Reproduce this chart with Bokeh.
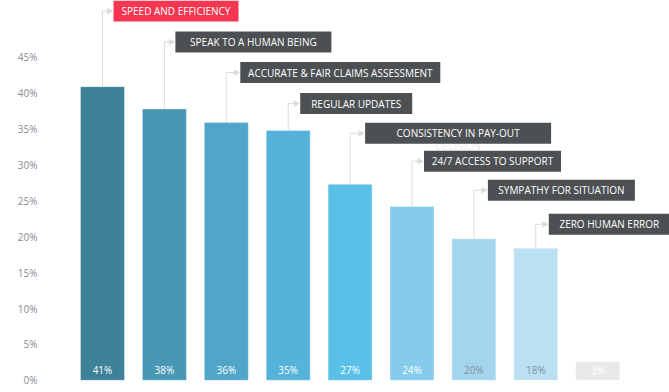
import math
from bokeh.plotting import figure
from bokeh.models import (Range1d, ColumnDataSource, Arrow, NormalHead,
                          FixedTicker, PrintfTickFormatter)
from bokeh.core.properties import value
from bokeh.embed import file_html
from bokeh.resources import INLINE

# ---------------- data ----------------
categories = [
    "SPEED AND EFFICIENCY",
    "SPEAK TO A HUMAN BEING",
    "ACCURATE & FAIR CLAIMS ASSESSMENT",
    "REGULAR UPDATES",
    "CONSISTENCY IN PAY-OUT\nDECISION",
    "24/7 ACCESS TO SUPPORT",
    "SYMPATHY FOR SITUATION",
    "ZERO HUMAN ERROR",
    "OTHER",
]
values = [40.9, 37.8, 35.9, 34.8, 27.3, 24.2, 19.7, 18.4, 2.6]
y_ticks = [0, 5, 10, 15, 20, 25, 30, 35, 40, 45]

# ---------------- styles / layout ----------------
bar_colors = ["#3d8299", "#4897b5", "#4fa6c9", "#55b3db", "#5bc0e8",
              "#85ccec", "#a3d6ee", "#bae0f2", "#e8e9eb"]
bar_label_colors = ["#ffffff"] * 6 + ["#7f909b", "#7f909b", "#ffffff"]
box_fill = ["#f53650"] + ["#4d5053"] * 7
box_gap_px = [11, 11, 14, 12, 15, 12, 14, 13]          # connector -> box
box_w_px = [125, 156, 200, 112, 186, 137, 147, 121]     # box widths
box_cy_px = [10.5, 41.5, 72, 103, 132.8, 160.7, 189.7, 223.8]  # y of box centre
BOX_H_PX = 21
FONT = "Open Sans"

FIG_W, FIG_H = 669, 392
BORDER_LEFT = 45
PX_X = 61.9          # px per category
PX_Y = 7.18          # px per percent
FIRST_BAR_PX = 57    # first bar centre from frame left
ZERO_PX = 379.8      # zero line from figure top
BAR_W_PX = 44

frame_w = FIG_W - BORDER_LEFT
x0 = -FIRST_BAR_PX / PX_X
x1 = x0 + frame_w / PX_X
y1 = ZERO_PX / PX_Y
y0 = y1 - FIG_H / PX_Y

p = figure(width=FIG_W, height=FIG_H, output_backend="svg", toolbar_location=None,
           x_range=Range1d(x0, x1), y_range=Range1d(y0, y1),
           x_axis_location=None, min_border_left=BORDER_LEFT, min_border_right=0,
           min_border_top=0, min_border_bottom=0, background_fill_color="white",
           border_fill_color="white", outline_line_color=None)
p.grid.visible = False

ax = p.yaxis[0]
ax.ticker = FixedTicker(ticks=y_ticks)
ax.formatter = PrintfTickFormatter(format="%d%%")
ax.axis_line_color = None
ax.major_tick_line_color = None
ax.minor_tick_line_color = None
ax.major_tick_out = 0
ax.major_label_standoff = 8
ax.major_label_text_font = FONT
ax.major_label_text_font_size = "10px"
ax.major_label_text_color = "#8c8c8c"

n = len(values)
xs = list(range(n))
bars = ColumnDataSource(dict(x=xs, top=values, color=bar_colors,
                             lab=[f"{round(v)}%" for v in values],
                             lab_color=bar_label_colors,
                             lab_y=[10.5 / PX_Y] * n))
p.vbar(x="x", top="top", bottom=0, width=BAR_W_PX / PX_X, source=bars,
       fill_color="color", line_color="white", line_alpha=0.35, line_width=1)
p.text(x="x", y="lab_y", text="lab", source=bars, text_color="lab_color",
       text_font=value(FONT), text_font_size="10px", text_align="center",
       text_baseline="middle")

# ---------------- callouts ----------------
m = len(box_w_px)
cx = xs[:m]
cy = [(ZERO_PX - y) / PX_Y for y in box_cy_px]
left = [c + g / PX_X for c, g in zip(cx, box_gap_px)]
right = [l + w / PX_X for l, w in zip(left, box_w_px)]
half_h = BOX_H_PX / 2 / PX_Y
first_lines = [c.split("\n")[0] for c in categories[:m]]
extra = [(i, c.split("\n", 1)[1]) for i, c in enumerate(categories[:m]) if "\n" in c]

p.segment(x0=cx, y0=values[:m], x1=cx, y1=cy, line_color="#dcdcdc", line_width=1)
arr_src = ColumnDataSource(dict(xs=cx, ys=cy, xe=[l - 1 / PX_X for l in left], ye=cy))
p.add_layout(Arrow(end=NormalHead(size=5, fill_color="#dcdcdc", line_color="#dcdcdc"),
                   x_start="xs", y_start="ys", x_end="xe", y_end="ye",
                   source=arr_src, line_color="#dcdcdc", line_width=1))

# overflowing second line (drawn under the boxes)
for i, t in extra:
    p.text(x=[(left[i] + right[i]) / 2], y=[cy[i] - 13 / PX_Y], text=[t],
           text_color="#ececec", text_font=value(FONT), text_font_size="10px",
           text_align="center", text_baseline="middle")

p.quad(left=left, right=right, top=[c + half_h for c in cy],
       bottom=[c - half_h for c in cy], fill_color=box_fill, line_color=None)
p.text(x=[(l + r) / 2 for l, r in zip(left, right)], y=cy, text=first_lines,
       text_color="white", text_font=value(FONT), text_font_size="10px",
       text_align="center", text_baseline="middle")

open("out.html", "w").write(file_html(p, INLINE))
